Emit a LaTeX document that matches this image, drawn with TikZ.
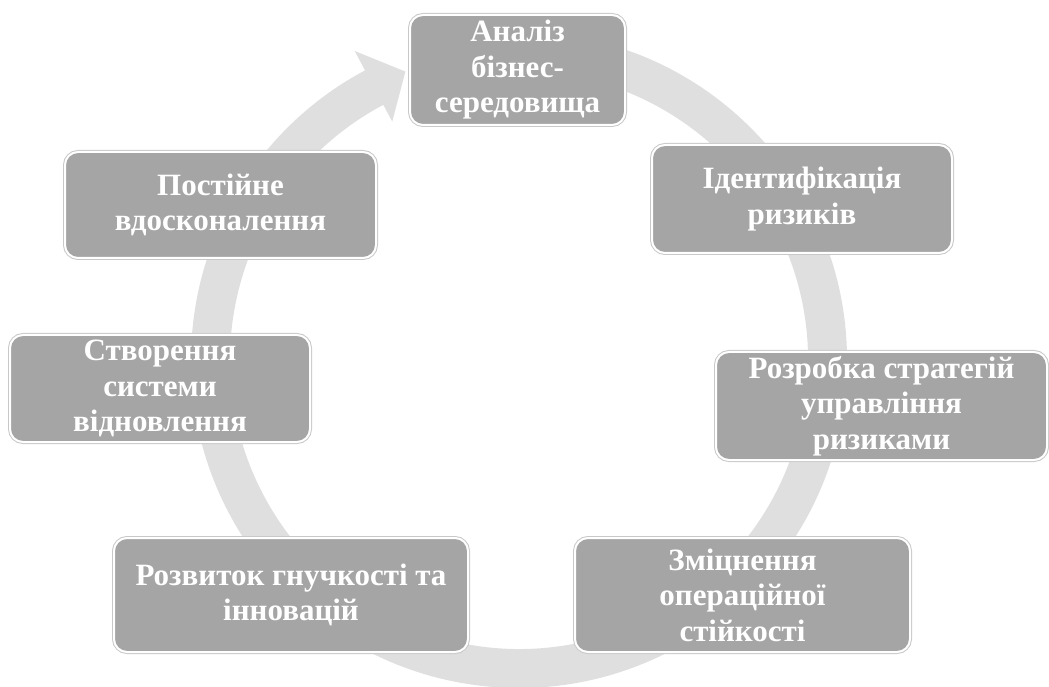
\documentclass[tikz,border=0pt]{standalone}
\usepackage{fontspec}
\setmainfont{Liberation Serif}
\definecolor{ringgray}{HTML}{DFDFDF}
\definecolor{boxgray}{HTML}{A5A5A5}
\definecolor{edgegray}{HTML}{C8C8C8}
\begin{document}
\begin{tikzpicture}[x=1pt,y=1pt,
  stagebox/.style={rounded corners=13pt, fill=boxgray, draw=white, line width=2pt,
    preaction={draw=edgegray, line width=4pt},
    text=white, font=\fontsize{31}{35.5}\selectfont\bfseries, align=center,
    inner sep=0pt, anchor=center}]
\useasboundingbox (0,0) rectangle (1049,686);
% ring arrow
\begin{scope}[shift={(519,326)}]
\fill[ringgray] (85:328) arc[start angle=85, end angle=-242, radius=328]
  -- (118:350) -- (111.5:310) -- (118:270) -- (-242:289)
  arc[start angle=-242, end angle=85, radius=289] -- cycle;
\end{scope}
\node[stagebox, minimum width=215pt, minimum height=110pt] (a) at (517.5,616) {Аналіз\\бізнес-\\середовища};
\node[stagebox, minimum width=300pt, minimum height=108pt] (b) at (802,487) {Ідентифікація\\ризиків};
\node[stagebox, minimum width=331pt, minimum height=108pt] (c) at (881.5,280) {Розробка стратегій\\управління\\ризиками};
\node[stagebox, minimum width=335pt, minimum height=114pt] (d) at (742.5,91) {Зміцнення\\операційної\\стійкості};
\node[stagebox, minimum width=354pt, minimum height=114pt] (e) at (291,91) {Розвиток гнучкості та\\інновацій};
\node[stagebox, minimum width=300pt, minimum height=107pt] (f) at (160,297.5) {Створення\\системи\\відновлення};
\node[stagebox, minimum width=311pt, minimum height=106pt] (g) at (220.5,481) {Постійне\\вдосконалення};
\end{tikzpicture}
\end{document}
